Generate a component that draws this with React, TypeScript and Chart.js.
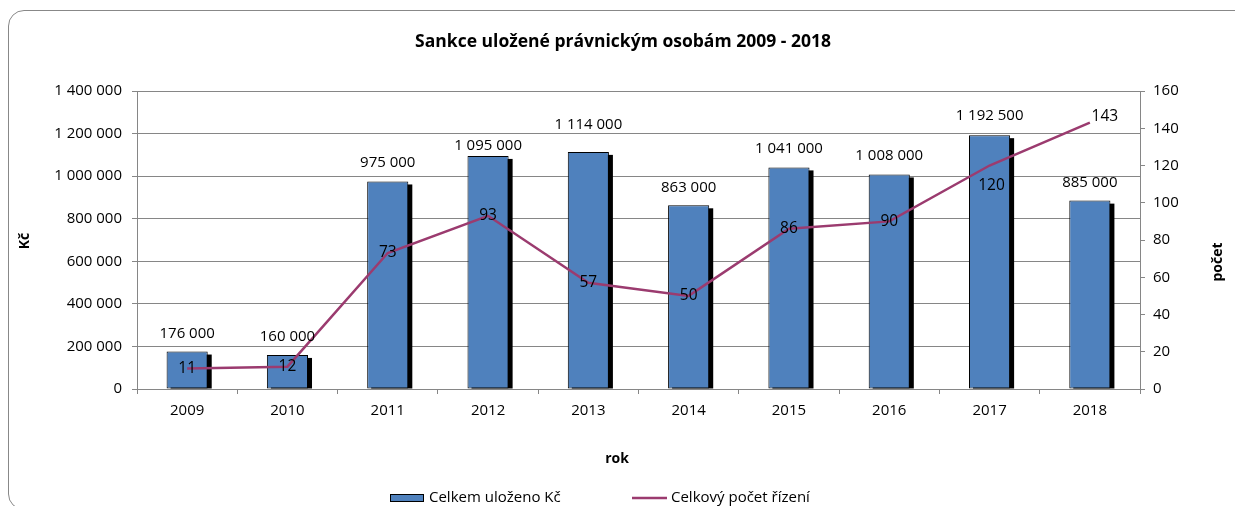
import React, { useEffect, useRef } from "react";
import { Chart, registerables } from "chart.js";

Chart.register(...registerables);

const years = ["2009", "2010", "2011", "2012", "2013", "2014", "2015", "2016", "2017", "2018"];
const amounts = [176000, 160000, 975000, 1095000, 1114000, 863000, 1041000, 1008000, 1192500, 885000];
const counts = [11, 12, 73, 93, 57, 50, 86, 90, 120, 143];
const leftTicksMax = 1400000;
const leftTicksStep = 200000;
const rightTicksMax = 160;
const rightTicksStep = 20;

const titleText = "Sankce uložené právnickým osobám 2009 - 2018";
const xTitle = "rok";
const yTitle = "Kč";
const y1Title = "počet";
const barLegend = "Celkem uloženo Kč";
const lineLegend = "Celkový počet řízení";

const FONT = "'Open Sans', 'Noto Sans', sans-serif";
const BAR_COLOR = "#4F81BD";
const LINE_COLOR = "#9B3B6F";
const GRID = "#868686";

// label placement tweaks (pixel offsets), separate from data
const barLabelGap = [18, 18, 19, 10, 27, 18, 19, 19, 19, 18];
const lineLabelShift: [number, number][] = [
  [0, 0], [0, 0], [0, 0], [0, 0], [0, 0], [0, 0], [0, 0], [0, 0], [2, 20], [15, -6],
];

const fmt = (v: number) => String(v).replace(/\B(?=(\d{3})+(?!\d))/g, " ");

const decorPlugin = {
  id: "decor",
  beforeDatasetsDraw(chart: any) {
    const ctx = chart.ctx;
    const meta = chart.getDatasetMeta(0);
    const area = chart.chartArea;
    ctx.save();
    ctx.beginPath();
    ctx.rect(area.left, area.top - 20, area.right - area.left + 10, area.bottom - area.top + 20);
    ctx.clip();
    ctx.fillStyle = "#000";
    meta.data.forEach((bar: any) => {
      const { x, y, base, width } = bar.getProps(["x", "y", "base", "width"], true);
      ctx.fillRect(x - width / 2 + 4, y + 3, width, base - y - 3);
    });
    ctx.restore();
  },
  afterDatasetsDraw(chart: any) {
    const ctx = chart.ctx;
    ctx.save();
    ctx.fillStyle = "#000";
    ctx.font = `15px ${FONT}`;
    ctx.textAlign = "center";
    ctx.textBaseline = "middle";
    const barMeta = chart.getDatasetMeta(0);
    barMeta.data.forEach((bar: any, i: number) => {
      ctx.fillText(fmt(amounts[i]), bar.x, bar.y - barLabelGap[i]);
    });
    const lineMeta = chart.getDatasetMeta(1);
    ctx.font = `15.5px ${FONT}`;
    lineMeta.data.forEach((pt: any, i: number) => {
      const [dx, dy] = lineLabelShift[i];
      ctx.fillText(String(counts[i]), pt.x + dx, pt.y + dy);
    });
    ctx.restore();
  },
  afterDraw(chart: any) {
    const ctx = chart.ctx;
    ctx.save();
    ctx.fillStyle = "#000";
    ctx.textBaseline = "middle";
    ctx.textAlign = "center";
    ctx.font = `bold 17.5px ${FONT}`;
    ctx.fillText(titleText, 623, 42);
    ctx.font = `bold 14px ${FONT}`;
    ctx.fillText(xTitle, 617, 459);
    ctx.save();
    ctx.translate(25, 241);
    ctx.rotate(-Math.PI / 2);
    ctx.fillText(yTitle, 0, 0);
    ctx.restore();
    ctx.save();
    ctx.translate(1218, 262);
    ctx.rotate(-Math.PI / 2);
    ctx.fillText(y1Title, 0, 0);
    ctx.restore();
    // legend
    ctx.fillStyle = BAR_COLOR;
    ctx.fillRect(390, 494, 34, 8);
    ctx.strokeStyle = "#000";
    ctx.lineWidth = 1;
    ctx.strokeRect(390.5, 494.5, 33, 7);
    ctx.fillStyle = "#000";
    ctx.textAlign = "left";
    ctx.font = `15px ${FONT}`;
    ctx.fillText(barLegend, 429, 498);
    ctx.strokeStyle = LINE_COLOR;
    ctx.lineWidth = 2.5;
    ctx.beginPath();
    ctx.moveTo(632, 498);
    ctx.lineTo(667, 498);
    ctx.stroke();
    ctx.fillText(lineLegend, 671, 498);
    ctx.restore();
  },
};

export default function App() {
  const ref = useRef<HTMLCanvasElement>(null);
  useEffect(() => {
    if (!ref.current) return;
    const chart = new Chart(ref.current, {
      type: "bar",
      data: {
        labels: years,
        datasets: [
          {
            type: "bar",
            label: barLegend,
            data: amounts,
            backgroundColor: BAR_COLOR,
            borderColor: "#000",
            borderWidth: 1,
            borderSkipped: false,
            barPercentage: 0.41,
            categoryPercentage: 1,
            yAxisID: "y",
            order: 1,
          },
          {
            type: "line",
            label: lineLegend,
            data: counts,
            borderColor: LINE_COLOR,
            borderWidth: 2.5,
            pointRadius: 0,
            tension: 0,
            yAxisID: "y1",
            order: 0,
          },
        ],
      } as any,
      options: {
        animation: false,
        responsive: false,
        devicePixelRatio: 1,
        layout: { padding: { top: 91, left: 0, right: 0, bottom: 0 } },
        plugins: { legend: { display: false }, title: { display: false }, tooltip: { enabled: false } },
        scales: {
          x: {
            offset: true,
            grid: { offset: true, drawOnChartArea: false, tickLength: 5, color: GRID },
            border: { color: GRID },
            ticks: { color: "#000", font: { size: 15, family: FONT }, padding: 8, maxRotation: 0, autoSkip: false },
            afterFit: (s: any) => { s.height = 117; },
          },
          y: {
            position: "left",
            min: 0,
            max: leftTicksMax,
            ticks: { stepSize: leftTicksStep, color: "#000", font: { size: 15, family: FONT }, padding: 10, callback: (v: any) => fmt(Number(v)) },
            grid: { color: GRID, tickLength: 5 },
            border: { color: GRID },
            afterFit: (s: any) => { s.width = 137; },
          },
          y1: {
            position: "right",
            min: 0,
            max: rightTicksMax,
            ticks: { stepSize: rightTicksStep, color: "#000", font: { size: 15, family: FONT }, padding: 8 },
            grid: { drawOnChartArea: false, tickLength: 5, color: GRID },
            border: { color: GRID },
            afterFit: (s: any) => { s.width = 95; },
          },
        },
      } as any,
      plugins: [decorPlugin],
    });
    return () => chart.destroy();
  }, []);
  return (
    <div style={{ position: "fixed", left: 0, top: 0, width: 1235, height: 506, overflow: "hidden", background: "#fff" }}>
      <canvas ref={ref} width={1235} height={506} style={{ position: "absolute", left: 0, top: 0 }} />
      <div
        style={{
          position: "absolute",
          left: 8,
          top: 10,
          width: 1260,
          height: 500,
          border: "1.5px solid #888",
          borderRadius: 16,
          boxSizing: "border-box",
          pointerEvents: "none",
        }}
      />
    </div>
  );
}
